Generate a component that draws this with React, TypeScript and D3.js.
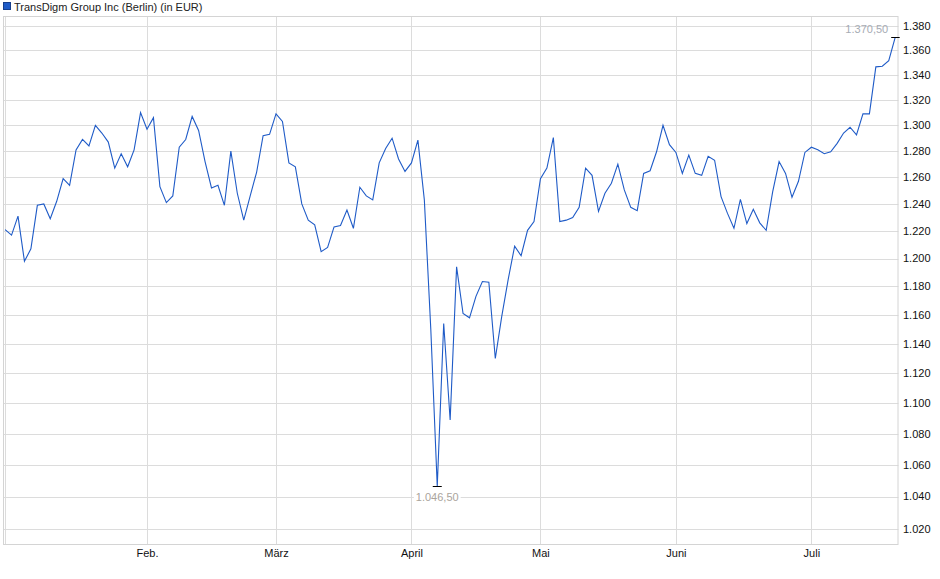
import React, { useEffect, useRef } from 'react';
import * as d3 from 'd3';

// Daily closing prices (EUR), Berlin, first trading day of Jan to mid July
const prices: number[] = [
  1221, 1217, 1231, 1198, 1207, 1239, 1240, 1229, 1242, 1259,
  1254, 1281, 1289, 1284, 1300, 1294, 1287, 1267, 1278, 1268,
  1281, 1310, 1297, 1306, 1253, 1241, 1246, 1283, 1289, 1307,
  1296, 1272, 1252, 1254, 1239, 1280, 1248, 1228, 1246, 1264,
  1292, 1293, 1309, 1303, 1271, 1268, 1240, 1228, 1224.5, 1205,
  1208, 1223, 1224, 1235.5, 1222, 1252.5, 1246, 1243, 1271, 1282,
  1290, 1274, 1264.5, 1271, 1288.5, 1243, 1150, 1046.5, 1154, 1089,
  1194, 1161, 1158, 1173, 1183.5, 1183, 1130, 1159, 1185, 1209,
  1202, 1220.5, 1227, 1259, 1267, 1290.5, 1227, 1228, 1230, 1237.5,
  1267, 1261.5, 1234.5, 1248, 1255.5, 1270, 1250.5, 1237.5, 1235, 1263,
  1265, 1279.5, 1300, 1285, 1279, 1263, 1277, 1263, 1261.5, 1276,
  1273, 1245.5, 1233, 1222, 1243.5, 1225.5, 1236, 1226, 1220.5, 1249,
  1272, 1263, 1245, 1257, 1279, 1283, 1281, 1278, 1279.5, 1286,
  1294, 1298.5, 1292.5, 1309, 1309, 1346.5, 1347, 1351.5, 1370.5,
];

// Month gridlines: label and index of the first trading day
const monthLabels = ['', 'Feb.', 'März', 'April', 'Mai', 'Juni', 'Juli'];
const monthStarts = [0, 22, 42, 63, 83, 104, 125];

// Right axis ticks
const yTicks = [1020, 1040, 1060, 1080, 1100, 1120, 1140, 1160, 1180, 1200,
  1220, 1240, 1260, 1280, 1300, 1320, 1340, 1360, 1380];
const yTickLabels = ['1.020', '1.040', '1.060', '1.080', '1.100', '1.120', '1.140',
  '1.160', '1.180', '1.200', '1.220', '1.240', '1.260', '1.280', '1.300', '1.320',
  '1.340', '1.360', '1.380'];

const title = 'TransDigm Group Inc (Berlin) (in EUR)';
const minLabel = '1.046,50';
const maxLabel = '1.370,50';

const W = 940;
const H = 579;
const lineColor = '#1f5bc7';
const font = '"Liberation Sans", Arial, sans-serif';

const App: React.FC = () => {
  const svgRef = useRef<SVGSVGElement>(null);

  useEffect(() => {
    if (!svgRef.current) return;
    const svg = d3.select(svgRef.current);
    svg.selectAll('*').remove();

    const plot = { left: 3, right: 898.5, top: 16, bottom: 545 };

    // x: trading-day index
    const x = d3.scaleLinear()
      .domain([0, prices.length - 1])
      .range([5.1, 5.1 + 6.45 * (prices.length - 1)]);

    // y: logarithmic price scale
    const y = d3.scaleLog()
      .domain([1010.2, 1388.3])
      .range([plot.bottom, plot.top]);

    // Horizontal gridlines
    svg.append('g')
      .selectAll('line')
      .data(yTicks)
      .join('line')
      .attr('x1', plot.left)
      .attr('x2', plot.right)
      .attr('y1', d => Math.round(y(d)) + 0.5)
      .attr('y2', d => Math.round(y(d)) + 0.5)
      .attr('stroke', '#dcdcdc')
      .attr('stroke-width', 1);

    // Vertical month gridlines
    svg.append('g')
      .selectAll('line')
      .data(monthStarts)
      .join('line')
      .attr('x1', d => Math.round(x(d)) + 0.5)
      .attr('x2', d => Math.round(x(d)) + 0.5)
      .attr('y1', plot.top)
      .attr('y2', plot.bottom)
      .attr('stroke', '#dcdcdc')
      .attr('stroke-width', 1);

    // Plot frame
    svg.append('rect')
      .attr('x', plot.left + 0.5)
      .attr('y', plot.top + 0.5)
      .attr('width', plot.right - plot.left - 1)
      .attr('height', plot.bottom - plot.top - 1)
      .attr('fill', 'none')
      .attr('stroke', '#d4d4d4');

    // Y axis labels (right)
    svg.append('g')
      .selectAll('text')
      .data(yTicks)
      .join('text')
      .attr('x', 903)
      .attr('y', d => y(d))
      .attr('dy', '0.35em')
      .style('font-family', font)
      .style('font-size', '11px')
      .style('fill', '#111')
      .text((_, i) => yTickLabels[i]);

    // X axis labels
    svg.append('g')
      .selectAll('text')
      .data(monthStarts)
      .join('text')
      .attr('x', d => x(d) + 0.5)
      .attr('y', 557)
      .attr('text-anchor', 'middle')
      .style('font-family', font)
      .style('font-size', '11px')
      .style('fill', '#111')
      .text((_, i) => monthLabels[i]);

    // Price line
    svg.append('path')
      .datum(prices)
      .attr('fill', 'none')
      .attr('stroke', lineColor)
      .attr('stroke-width', 1.1)
      .attr('stroke-linejoin', 'miter')
      .attr('d', d3.line<number>()
        .x((_, i) => x(i))
        .y(d => y(d)));

    // Min / max markers
    const minIdx = d3.minIndex(prices);
    const maxIdx = d3.maxIndex(prices);
    const minX = x(minIdx);
    const minY = y(prices[minIdx]);
    const maxX = x(maxIdx);
    const maxY = y(prices[maxIdx]);

    svg.append('line')
      .attr('x1', minX - 4.5).attr('x2', minX + 4.5)
      .attr('y1', Math.round(minY) + 0.5).attr('y2', Math.round(minY) + 0.5)
      .attr('stroke', '#000').attr('stroke-width', 1);

    const minText = svg.append('text')
      .attr('x', minX)
      .attr('y', minY + 11)
      .attr('dy', '0.35em')
      .attr('text-anchor', 'middle')
      .style('font-family', font)
      .style('font-size', '11px')
      .style('fill', '#aaa49c')
      .text(minLabel);
    const mb = (minText.node() as SVGTextElement).getBBox();
    svg.insert('rect', () => minText.node() as SVGTextElement)
      .attr('x', mb.x - 2)
      .attr('y', mb.y)
      .attr('width', mb.width + 4)
      .attr('height', mb.height)
      .attr('fill', '#fff');

    svg.append('line')
      .attr('x1', maxX - 4).attr('x2', maxX + 4.5)
      .attr('y1', Math.round(maxY) + 0.5).attr('y2', Math.round(maxY) + 0.5)
      .attr('stroke', '#000').attr('stroke-width', 1);

    svg.append('text')
      .attr('x', maxX - 7)
      .attr('y', maxY - 8.5)
      .attr('dy', '0.35em')
      .attr('text-anchor', 'end')
      .style('font-family', font)
      .style('font-size', '11px')
      .style('fill', '#a6abb4')
      .text(maxLabel);

    // Title with legend square
    svg.append('rect')
      .attr('x', 3.5).attr('y', 2.5)
      .attr('width', 7).attr('height', 7)
      .attr('fill', lineColor)
      .attr('stroke', '#173f8c');

    svg.append('text')
      .attr('x', 14)
      .attr('y', 10.5)
      .style('font-family', font)
      .style('font-size', '11px')
      .style('fill', '#222')
      .text(title);
  }, []);

  return (
    <div style={{ position: 'absolute', left: 0, top: 0, width: W, height: H, background: '#fff' }}>
      <svg ref={svgRef} width={W} height={H} />
    </div>
  );
};

export default App;
